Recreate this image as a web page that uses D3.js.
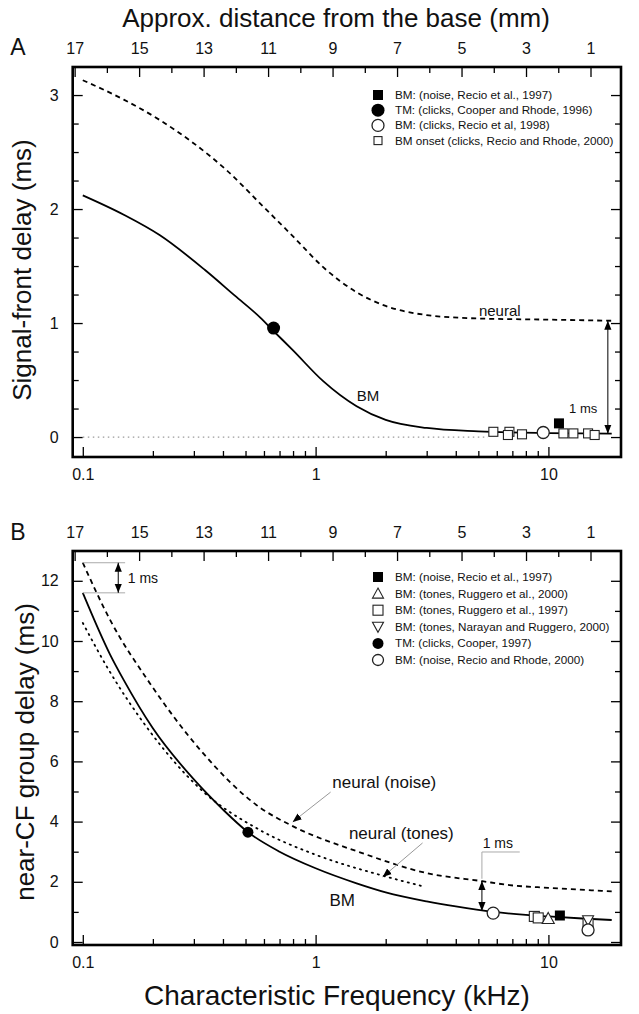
<!DOCTYPE html>
<html><head><meta charset="utf-8">
<script src="https://cdn.jsdelivr.net/npm/d3@7"></script>
<style>
body{margin:0;background:#fff}
text{font-family:"Liberation Sans",Arial,Helvetica,sans-serif;fill:#111}
</style></head>
<body><svg id="c" width="639" height="1014"></svg>
<script>
// ---------------- data ----------------
const freqMajor = [0.1, 1, 10];
const freqMinor = [0.2,0.3,0.4,0.5,0.6,0.7,0.8,0.9,2,3,4,5,6,7,8,9];
const distMajor = [17,15,13,11,9,7,5,3,1];
const distMinor = [16,14,12,10,8,6,4,2];
const aTicksMajor = [0,1,2,3];
const aTicksMinor = [0.25,0.5,0.75,1.25,1.5,1.75,2.25,2.5,2.75,3.25];
const bTicksMajor = [0,2,4,6,8,10,12];
const bTicksMinor = [1,3,5,7,9,11];

// Panel A: signal-front delay (ms)
const aBmFreq   = [0.1, 0.15, 0.2145, 0.335, 0.45, 0.577, 0.66, 0.8, 1.078, 1.5, 2, 3, 5, 10, 18.7];
const aBmDelay  = [2.12, 1.95, 1.77, 1.465, 1.24, 1.05, 0.93, 0.76, 0.49, 0.27, 0.15, 0.08, 0.05, 0.035, 0.03];
const aNeuFreq  = [0.1, 0.15, 0.2145, 0.298, 0.415, 0.577, 0.8, 1.078, 1.5, 2, 3, 5, 10, 18.7];
const aNeuDelay = [3.13, 2.96, 2.78, 2.58, 2.34, 2.05, 1.76, 1.49, 1.27, 1.15, 1.07, 1.04, 1.03, 1.02];
const aZeroFreq = [0.1, 5.5];

const aNoiseRecio97 = [[11.1, 0.12]];
const aTmCooper96   = [[0.66, 0.956]];
const aClicksRecio98 = [[9.5, 0.04]];
const aOnsetRecio00 = [[5.8,0.046],[6.8,0.046],[6.7,0.018],[7.7,0.024],[11.6,0.032],[12.8,0.032],[14.8,0.032],[15.8,0.018]];

const aLegend = ["BM: (noise, Recio et al., 1997)",
                 "TM: (clicks, Cooper and Rhode, 1996)",
                 "BM: (clicks, Recio et al, 1998)",
                 "BM onset (clicks, Recio and Rhode, 2000)"];

// Panel B: near-CF group delay (ms)
const bBmFreq    = [0.1, 0.131, 0.15, 0.2, 0.3, 0.4, 0.512, 0.7, 1, 1.5, 2, 3, 4, 5.8, 8, 10, 14, 18.7];
const bBmDelay   = [11.6, 9.55, 8.7, 7.1, 5.4, 4.4, 3.65, 3.0, 2.45, 1.95, 1.65, 1.35, 1.18, 1.0, 0.9, 0.85, 0.78, 0.73];
const bNoiseFreq = [0.1, 0.131, 0.194, 0.318, 0.576, 0.797, 1.55, 3.0, 5.2, 6.8, 10, 18.7];
const bNoiseDelay= [12.6, 10.7, 8.6, 6.4, 4.47, 3.85, 2.98, 2.29, 2.02, 1.89, 1.8, 1.68];
const bTonesFreq = [0.1, 0.127, 0.194, 0.318, 0.576, 1.0, 1.95, 2.89];
const bTonesDelay= [10.6, 9.14, 7.0, 5.1, 3.72, 2.9, 2.2, 1.85];

const bNoiseRecio97   = [[11.2, 0.88]];
const bTonesRuggero00 = [[9.98, 0.78]];
const bTonesRuggero97 = [[8.7, 0.85],[9.04, 0.8],[14.8, 0.62]];
const bTonesNarayan00 = [[14.8, 0.72]];
const bClicksCooper97 = [[0.512, 3.65]];
const bNoiseRecio00   = [[5.79, 0.96],[14.8, 0.4]];

const bLegend = ["BM: (noise, Recio et al., 1997)",
                 "BM: (tones, Ruggero et al., 2000)",
                 "BM: (tones, Ruggero et al., 1997)",
                 "BM: (tones, Narayan and Ruggero, 2000)",
                 "TM: (clicks, Cooper, 1997)",
                 "BM: (noise, Recio and Rhode, 2000)"];

// ---------------- drawing ----------------
const svg = d3.select("#c");
const L = 72.7, R = 621;
const x = d3.scaleLog().domain([0.0905, 20.5]).range([L, R]);
const xd = d3.scaleLinear().domain([17.06, 0.054]).range([L, R]);
const yA = d3.scaleLinear().domain([-0.175, 3.246]).range([457, 67]);
const yB = d3.scaleLinear().domain([-0.1, 12.99]).range([945, 551]);

const defs = svg.append("defs");
defs.append("marker").attr("id","ah").attr("viewBox","0 0 10 10").attr("refX",10).attr("refY",5)
  .attr("markerWidth",9).attr("markerHeight",9).attr("markerUnits","userSpaceOnUse").attr("orient","auto-start-reverse")
  .append("path").attr("d","M0,1 L10,5 L0,9 z").attr("fill","#000");

function panel(y, top, bot, major, minor) {
  const g = svg.append("g");
  const fs = "16px";
  const bx = g.append("g").attr("transform",`translate(0,${bot})`)
    .call(d3.axisBottom(x).tickValues(freqMajor).tickFormat(d3.format("~g")).tickSize(-10).tickPadding(12));
  bx.append("g").call(d3.axisBottom(x).tickValues(freqMinor).tickFormat("").tickSize(-6));
  const tx = g.append("g").attr("transform",`translate(0,${top})`)
    .call(d3.axisTop(xd).tickValues(distMajor).tickFormat(d3.format("d")).tickSize(-10).tickPadding(13));
  tx.append("g").call(d3.axisTop(xd).tickValues(distMinor).tickFormat("").tickSize(-6));
  const lx = g.append("g").attr("transform",`translate(${L},0)`)
    .call(d3.axisLeft(y).tickValues(major).tickFormat(d3.format("d")).tickSize(-10).tickPadding(14));
  lx.append("g").call(d3.axisLeft(y).tickValues(minor).tickFormat("").tickSize(-6));
  const rx = g.append("g").attr("transform",`translate(${R},0)`)
    .call(d3.axisRight(y).tickValues(major).tickFormat("").tickSize(-10));
  rx.append("g").call(d3.axisRight(y).tickValues(minor).tickFormat("").tickSize(-6));
  g.selectAll(".domain").remove();
  g.selectAll(".tick line").attr("stroke","#000").attr("stroke-width",1.3);
  g.selectAll(".tick text").style("font-size",fs).attr("fill","#111");
  g.append("rect").attr("x",L).attr("y",top).attr("width",R-L).attr("height",bot-top)
    .attr("fill","none").attr("stroke","#000").attr("stroke-width",2.6);
  return g;
}

panel(yA, 67, 457, aTicksMajor, aTicksMinor);
panel(yB, 551, 945, bTicksMajor, bTicksMinor);

function curve(fs, ds, y, dash, width) {
  const line = d3.line().x(d=>x(d[0])).y(d=>y(d[1])).curve(d3.curveMonotoneX);
  svg.append("path").datum(fs.map((f,i)=>[f,ds[i]])).attr("d",line)
    .attr("fill","none").attr("stroke","#000").attr("stroke-width",width||1.8)
    .attr("stroke-dasharray",dash||null).attr("stroke-linecap", dash && dash.startsWith("1.") ? "round":"butt");
}

svg.append("path").datum(aZeroFreq.map(f=>[f,0]))
  .attr("d", d3.line().x(d=>x(d[0])).y(d=>yA(d[1])))
  .attr("stroke","#999").attr("stroke-width",1.2).attr("stroke-dasharray","1.5 3.5").attr("fill","none");
curve(aNeuFreq, aNeuDelay, yA, "5 4", 1.8);
curve(aBmFreq, aBmDelay, yA, null, 1.8);

curve(bNoiseFreq, bNoiseDelay, yB, "5 4", 1.8);
curve(bTonesFreq, bTonesDelay, yB, "1.2 5", 1.8);
curve(bBmFreq, bBmDelay, yB, null, 1.8);

function sym(g, type, cx, cy, s) {
  if (type==="fsq") g.append("rect").attr("x",cx-s/2).attr("y",cy-s/2).attr("width",s).attr("height",s).attr("fill","#000");
  if (type==="osq") g.append("rect").attr("x",cx-s/2).attr("y",cy-s/2).attr("width",s).attr("height",s).attr("fill","#fff").attr("stroke","#222").attr("stroke-width",1.1);
  if (type==="fci") g.append("circle").attr("cx",cx).attr("cy",cy).attr("r",s/2).attr("fill","#000");
  if (type==="oci") g.append("circle").attr("cx",cx).attr("cy",cy).attr("r",s/2).attr("fill","#fff").attr("stroke","#222").attr("stroke-width",1.3);
  if (type==="tup") g.append("path").attr("d",`M${cx},${cy-s*0.55} L${cx+s*0.55},${cy+s*0.45} L${cx-s*0.55},${cy+s*0.45} Z`).attr("fill","#fff").attr("stroke","#222").attr("stroke-width",1.1);
  if (type==="tdn") g.append("path").attr("d",`M${cx},${cy+s*0.55} L${cx+s*0.55},${cy-s*0.45} L${cx-s*0.55},${cy-s*0.45} Z`).attr("fill","#fff").attr("stroke","#222").attr("stroke-width",1.1);
}
function points(data, y, type, s) {
  const g = svg.append("g");
  data.forEach(d => sym(g, type, x(d[0]), y(d[1]), s));
}
points(aOnsetRecio00, yA, "osq", 9);
points(aClicksRecio98, yA, "oci", 12);
points(aNoiseRecio97, yA, "fsq", 10);
points(aTmCooper96, yA, "fci", 13);

points(bTonesRuggero97, yB, "osq", 10);
points(bTonesNarayan00, yB, "tdn", 10);
points(bNoiseRecio00, yB, "oci", 12);
points(bTonesRuggero00, yB, "tup", 11);
points(bNoiseRecio97, yB, "fsq", 10);
points(bClicksCooper97, yB, "fci", 11);

function legend(labels, types, sizes, x0, y0, dy) {
  const g = svg.append("g");
  labels.forEach((t,i) => {
    sym(g, types[i], x0, y0 + i*dy, sizes[i]);
    g.append("text").attr("x", x0+17).attr("y", y0+i*dy).attr("dy","0.35em").style("font-size","11.7px").text(t);
  });
}
legend(aLegend, ["fsq","fci","oci","osq"], [10,13,12,8], 378, 95, 15.2);
legend(bLegend, ["fsq","tup","osq","tdn","fci","oci"], [10,10,10,10,11,11], 378, 577, 16.6);

function txt(t, xx, yy, size, anchor) {
  svg.append("text").attr("x",xx).attr("y",yy).attr("dy","0.35em").attr("text-anchor",anchor||"start").style("font-size",size).text(t);
}
function seg(x1,y1,x2,y2,color,w,startArrow,endArrow) {
  const p = svg.append("line").attr("x1",x1).attr("y1",y1).attr("x2",x2).attr("y2",y2)
    .attr("stroke",color).attr("stroke-width",w);
  if (endArrow) p.attr("marker-end","url(#ah)");
  if (startArrow) p.attr("marker-start","url(#ah)");
}
txt("neural", x(6.18), yA(1.105), "15px", "middle");
txt("BM", x(1.68), yA(0.36), "15px", "middle");
txt("1 ms", x(14.1), yA(0.254), "13px", "middle");
seg(x(18.0), yA(1.02), x(18.0), yA(0.03), "#000", 1, true, true);

seg(x(0.1), yB(12.6), x(0.152), yB(12.6), "#aaa", 1);
seg(x(0.1), yB(11.6), x(0.152), yB(11.6), "#aaa", 1);
seg(x(0.142), yB(12.6), x(0.142), yB(11.6), "#000", 1, true, true);
txt("1 ms", x(0.156), yB(12.1), "14px");

txt("neural (noise)", x(1.18), yB(5.32), "17px");
seg(x(1.16), yB(4.98), x(0.797), yB(3.99), "#999", 1, false, true);
txt("neural (tones)", x(1.39), yB(3.62), "17px");
seg(x(2.88), yB(3.29), x(1.94), yB(2.16), "#999", 1, false, true);
txt("BM", x(1.30), yB(1.40), "17px", "middle");

seg(x(5.18), yB(2.99), x(7.53), yB(2.99), "#aaa", 1);
seg(x(5.18), yB(2.99), x(5.18), yB(2.1), "#aaa", 1);
seg(x(5.18), yB(2.03), x(5.18), yB(1.03), "#000", 1, true, true);
txt("1 ms", x(5.22), yB(3.29), "14px");

svg.append("text").attr("x",336).attr("y",18).attr("dy","0.35em").attr("text-anchor","middle").style("font-size","26px").text("Approx. distance from the base (mm)");
svg.append("text").attr("x",337).attr("y",995).attr("dy","0.35em").attr("text-anchor","middle").style("font-size","28px").text("Characteristic Frequency (kHz)");
svg.append("text").attr("transform","translate(22,270) rotate(-90)").attr("dy","0.35em").attr("text-anchor","middle").style("font-size","26px").text("Signal-front delay (ms)");
svg.append("text").attr("transform","translate(25,752) rotate(-90)").attr("dy","0.35em").attr("text-anchor","middle").style("font-size","26px").text("near-CF group delay (ms)");
txt("A", 18, 47, "23px", "middle");
txt("B", 18, 532, "23px", "middle");
</script></body></html>
